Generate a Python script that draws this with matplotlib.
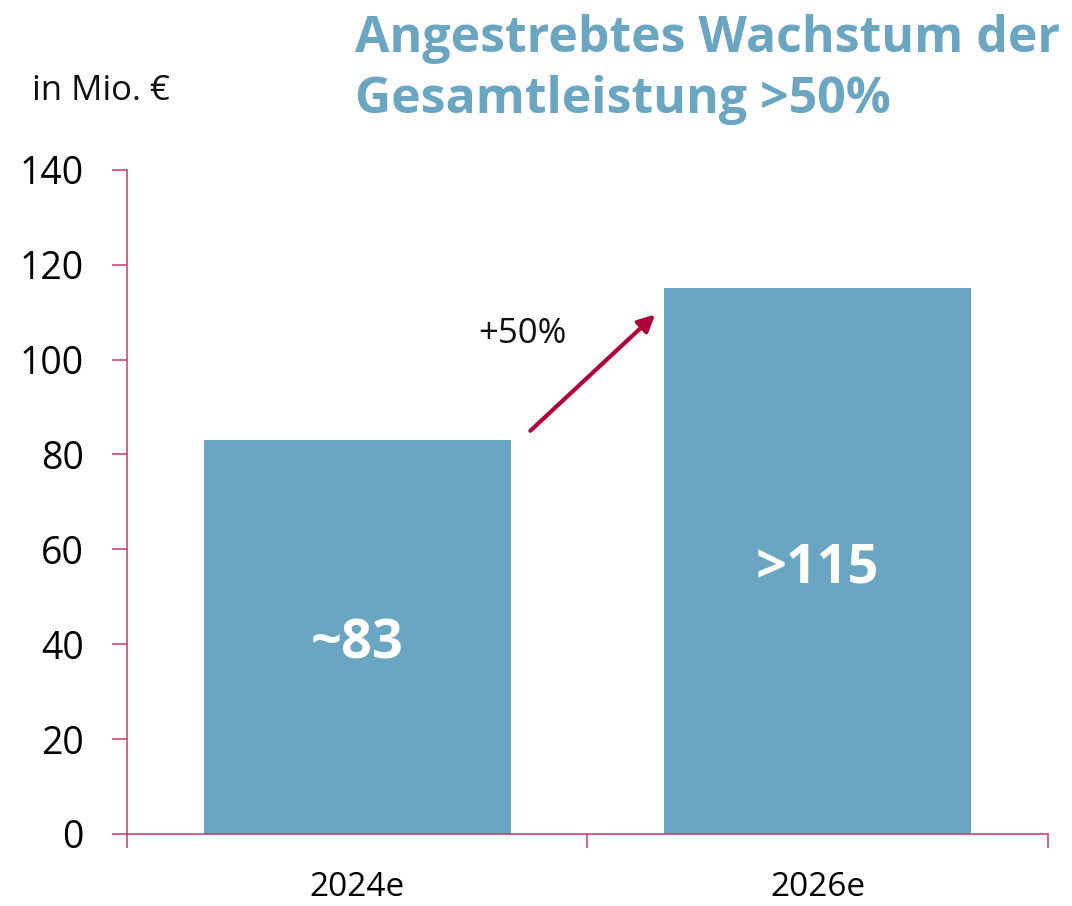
import matplotlib
matplotlib.use("Agg")
import matplotlib.pyplot as plt


CATEGORIES = ["2024e", "2026e"]
VALUES = [83, 115]
BAR_LABELS = ["~83", ">115"]
GROWTH_LABEL = "+50%"
TITLE = "Angestrebtes Wachstum der\nGesamtleistung >50%"
UNIT_LABEL = "in Mio. €"
Y_TICKS = [0, 20, 40, 60, 80, 100, 120, 140]

BAR_COLOR = "#6AA5C2"
AXIS_COLOR = "#C8386A"
ARROW_COLOR = "#B0003A"

plt.rcParams["font.family"] = ["Open Sans", "DejaVu Sans"]


def main():
    fig = plt.figure(figsize=(10.72, 9.06), dpi=100)
    ax = fig.add_axes([0.1185, 0.0795, 0.859, 0.733])

    x = list(range(len(CATEGORIES)))
    ax.bar(x, VALUES, width=0.667, color=BAR_COLOR, zorder=2)

    for xi, v, lab in zip(x, VALUES, BAR_LABELS):
        ax.text(xi, v / 2 - 1.5, lab, ha="center", va="center", color="white",
                fontsize=39, fontweight="bold")

    ax.set_xlim(-0.5, len(CATEGORIES) - 0.5)
    ax.set_ylim(0, 140)
    ax.set_yticks(Y_TICKS)
    ax.set_xticks(x)
    ax.set_xticklabels(CATEGORIES)
    ax.set_xticks([i - 0.5 for i in range(len(CATEGORIES) + 1)], minor=True)

    ax.tick_params(axis="x", which="major", length=0, labelsize=24, pad=27)
    ax.tick_params(axis="x", which="minor", length=10, width=1.1, color=AXIS_COLOR, direction="out")
    ax.tick_params(axis="y", length=11, width=1.1, color=AXIS_COLOR, labelsize=27, pad=20)

    for s in ["top", "right"]:
        ax.spines[s].set_visible(False)
    for s in ["left", "bottom"]:
        ax.spines[s].set_color(AXIS_COLOR)
        ax.spines[s].set_linewidth(1.1)

    # growth arrow between the bars
    ax.annotate("", xy=(0.647, VALUES[1] - 5.5), xytext=(0.376, VALUES[0] + 2),
                arrowprops=dict(arrowstyle="-|>", color=ARROW_COLOR, lw=3,
                                mutation_scale=25, shrinkA=0, shrinkB=0))
    ax.text(0.262, 105.5, GROWTH_LABEL, fontsize=25, ha="left", va="center", color="#111111")

    fig.text(0.03, 0.90, UNIT_LABEL, fontsize=25, ha="left", va="center", color="#111111")
    fig.text(0.331, 0.984, TITLE, fontsize=36, fontweight="bold", color=BAR_COLOR,
             ha="left", va="top", linespacing=1.28)

    fig.savefig("out.png", dpi=100)
    plt.close(fig)


if __name__ == "__main__":
    main()
